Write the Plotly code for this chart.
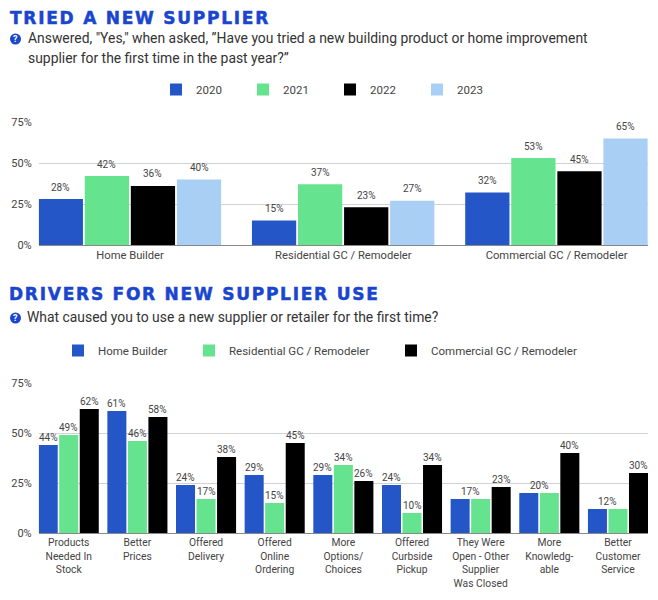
import plotly.graph_objects as go

W, H = 658, 600
MY = 7
FONT = "Roboto"
TXT = "#444444"

cats1 = ["Home Builder", "Residential GC / Remodeler", "Commercial GC / Remodeler"]
y2020 = [28, 15, 32]
y2021 = [42, 37, 53]
y2022 = [36, 23, 45]
y2023 = [40, 27, 65]

cats2 = ["Products<br>Needed In<br>Stock", "Better<br>Prices", "Offered<br>Delivery",
         "Offered<br>Online<br>Ordering", "More<br>Options/<br>Choices", "Offered<br>Curbside<br>Pickup",
         "They Were<br>Open - Other<br>Supplier<br>Was Closed", "More<br>Knowledg-<br>able",
         "Better<br>Customer<br>Service"]
home = [44, 61, 24, 29, 29, 24, 17, 20, 12]
resi = [49, 46, 17, 15, 34, 10, 17, 20, 12]
comm = [62, 58, 38, 45, 26, 34, 23, 40, 30]

BLUE, GREEN, BLACK, LIGHT = "#2456C8", "#66E38E", "#000000", "#AACFF5"
TITLE_BLUE = "#1A45CF"


def py(y):
    """pixel from the page top -> paper fraction"""
    return 1 - (y - MY) / (H - 2 * MY)


fig = go.Figure()
labels = []


def add_series(name, x, y, color, xa, ya, legend, width, offset):
    fig.add_trace(go.Bar(name=name, x=x, y=y, marker=dict(color=color, line=dict(width=0)),
                         xaxis=xa, yaxis=ya, legend=legend, width=width, offset=offset,
                         hoverinfo="x+y"))


w1, g1, s1 = 0.2075, 0.0085, -0.4286
for i, (n, v, c) in enumerate([("2020", y2020, BLUE), ("2021", y2021, GREEN),
                               ("2022", y2022, BLACK), ("2023", y2023, LIGHT)]):
    off = s1 + i * (w1 + g1)
    add_series(n, cats1, v, c, "x", "y", "legend", w1, off)
    for k, val in enumerate(v):
        labels.append(("x", "y", k + off + w1 / 2, val, 12))

w2, g2, s2 = 0.277, 0.022, -0.4375
for i, (n, v, c, leg_id) in enumerate([("Home Builder", home, BLUE, "legend2"),
                                       ("Residential GC / Remodeler", resi, GREEN, "legend3"),
                                       ("Commercial GC / Remodeler", comm, BLACK, "legend4")]):
    off = s2 + i * (w2 + g2)
    add_series(n, cats2, v, c, "x2", "y2", leg_id, w2, off)
    for k, val in enumerate(v):
        if i < 2 and home[k] == resi[k]:
            continue  # equal neighbours share one label, added below
        labels.append(("x2", "y2", k + off + w2 / 2, val, 8))
for k, (a, b) in enumerate(zip(home, resi)):
    if a == b:
        labels.append(("x2", "y2", k + s2 + w2 + g2 / 2, a, 8))

axis_y = dict(range=[0, 75], tickvals=[0, 25, 50, 75], ticktext=["0%", "25%", "50%", "75%"],
              gridcolor="#D2D2D2", gridwidth=1, zeroline=False, showline=False, ticks="",
              tickfont=dict(family=FONT, size=11, color=TXT), ticklabelstandoff=6)


def leg(x, y, **kw):
    return dict(orientation="h", x=x / W, y=py(y), xanchor="left", yanchor="top",
                font=dict(family=FONT, size=11.5, color=TXT), itemwidth=30,
                traceorder="normal", bgcolor="rgba(0,0,0,0)", **kw)


fig.update_layout(
    width=W, height=H, autosize=False, margin=dict(l=0, r=0, t=MY, b=MY),
    paper_bgcolor="white", plot_bgcolor="white", barmode="group",
    font=dict(family=FONT, color=TXT), showlegend=True,
    xaxis=dict(domain=[38.7 / W, 648 / W], range=[-0.4286, 2.4286], anchor="y",
               tickfont=dict(family=FONT, size=11.2, color=TXT), showline=True, linecolor="#888888",
               linewidth=1, ticks="", categoryorder="array", categoryarray=cats1),
    yaxis=dict(domain=[py(245), py(122)], anchor="x", **axis_y),
    xaxis2=dict(domain=[38.7 / W, 648 / W], range=[-0.4375, 8.4375], anchor="y2",
                tickfont=dict(family=FONT, size=10.3, color=TXT), showline=True, linecolor="#888888",
                linewidth=1, ticks="", tickangle=0, categoryorder="array", categoryarray=cats2),
    yaxis2=dict(domain=[py(533), py(383)], anchor="x2", **axis_y),
    legend=leg(156, 75, entrywidth=42, entrywidthmode="pixels"),
    legend2=leg(58, 336),
    legend3=leg(189, 336),
    legend4=leg(391, 336),
)

for xa, ya, x, val, shift in labels:
    fig.add_annotation(text=f"{val}%", x=x, y=val, xref=xa, yref=ya, yshift=shift, showarrow=False,
                       xanchor="center", yanchor="middle", font=dict(family=FONT, size=10, color=TXT))


def note(text, x, y, size, color=TXT, family=FONT, bold=False, anchor="left"):
    fig.add_annotation(text=f"<b>{text}</b>" if bold else text, x=x / W, y=py(y), xref="paper", yref="paper",
                       showarrow=False, xanchor=anchor, yanchor="middle",
                       font=dict(family=family, size=size, color=color), align="left")


note("TRIED A NEW SUPPLIER", 7.5, 18, 17, TITLE_BLUE, "DejaVu Sans", True)
note("Answered, \"Yes,\" when asked, ”Have you tried a new building product or home improvement", 25.5, 38, 13.9, "#333333")
note("supplier for the first time in the past year?”", 25.5, 58, 13.9, "#333333")
note("DRIVERS FOR NEW SUPPLIER USE", 6.5, 294, 17, TITLE_BLUE, "DejaVu Sans", True)
note("What caused you to use a new supplier or retailer for the first time?", 25, 317, 13.9, "#333333")

for cy in (39, 318):
    fig.add_shape(type="circle", xref="paper", yref="paper", x0=10 / W, x1=21 / W,
                  y0=py(cy + 5.5), y1=py(cy - 5.5), fillcolor=TITLE_BLUE, line=dict(width=0))
    note("?", 15.5, cy, 9, "white", FONT, True, "center")

post = """
document.body.style.margin = '0';
document.body.style.overflow = 'hidden';
document.querySelectorAll('.annotation-text').forEach(function (t) {
  if (/^(TRIED|DRIVERS)/.test(t.textContent)) {
    t.style.letterSpacing = '1.75px';
    t.style.stroke = '#1A45CF';
    t.style.strokeWidth = '0.5px';
  }
});
"""
fig.write_html("out.html", post_script=post, config=dict(displayModeBar=False))
